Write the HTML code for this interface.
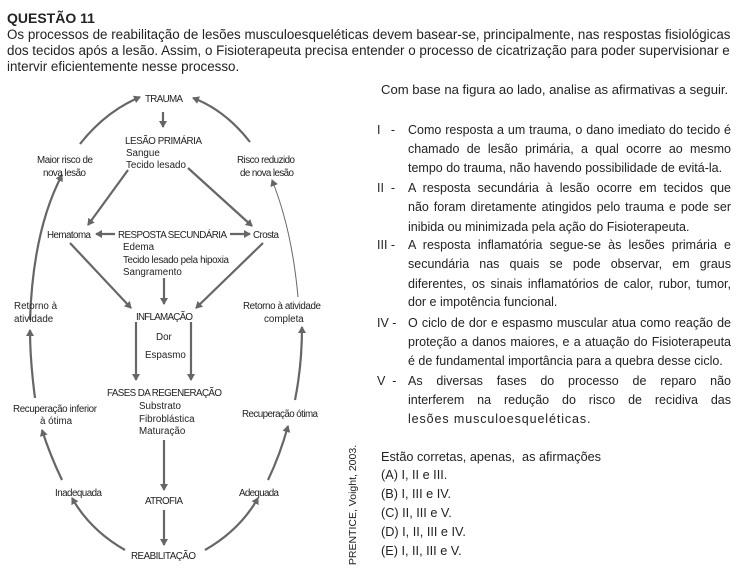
<!DOCTYPE html>
<html><head><meta charset="utf-8"><style>
body{margin:0;width:742px;height:575px;background:#fff;position:relative;overflow:hidden;font-family:"Liberation Sans",Arial,sans-serif;color:#222}
.a{position:absolute;white-space:nowrap;line-height:16px}
.h{font-size:13.4px;left:7px}
.r{font-size:12.7px}
.j{position:absolute;left:408px;width:323px;font-size:12.5px;line-height:16px;text-align:justify;text-align-last:justify;white-space:nowrap}
.l{text-align-last:left}
.n{position:absolute;left:377px;font-size:12.5px;line-height:16px}
svg text{font-family:"Liberation Sans",Arial,sans-serif;font-size:9.8px;fill:#222}
</style></head><body>
<div class="a" style="left:7px;top:10px;font-weight:bold;font-size:14px">QUESTÃO 11</div>
<div class="a h" style="top:27px">Os processos de reabilitação de lesões musculoesqueléticas devem basear-se, principalmente, nas respostas fisiológicas</div>
<div class="a h" style="top:43px">dos tecidos após a lesão. Assim, o Fisioterapeuta precisa entender o processo de cicatrização para poder supervisionar e</div>
<div class="a h" style="top:59px">intervir eficientemente nesse processo.</div>

<div class="a r" style="left:381px;top:82px;font-size:13.1px">Com base na figura ao lado, analise as afirmativas a seguir.</div>
<div class="n" style="top:122px">I&nbsp;&nbsp;&nbsp;-</div>
<div class="j" style="top:122px">Como resposta a um trauma, o dano imediato do tecido é</div>
<div class="j" style="top:141px">chamado de lesão primária, a qual ocorre ao mesmo</div>
<div class="j l" style="top:160px">tempo do trauma, não havendo possibilidade de evitá-la.</div>
<div class="n" style="top:180px">II&nbsp;&nbsp;-</div>
<div class="j" style="top:180px">A resposta secundária à lesão ocorre em tecidos que</div>
<div class="j" style="top:199px">não foram diretamente atingidos pelo trauma e pode ser</div>
<div class="j l" style="top:219px">inibida ou minimizada pela ação do Fisioterapeuta.</div>
<div class="n" style="top:237px">III -</div>
<div class="j" style="top:237px">A resposta inflamatória segue-se às lesões primária e</div>
<div class="j" style="top:256px">secundária nas quais se pode observar, em graus</div>
<div class="j" style="top:276px">diferentes, os sinais inflamatórios de calor, rubor, tumor,</div>
<div class="j l" style="top:294px">dor e impotência funcional.</div>
<div class="n" style="top:315px">IV -</div>
<div class="j" style="top:315px">O ciclo de dor e espasmo muscular atua como reação de</div>
<div class="j" style="top:334px">proteção a danos maiores, e a atuação do Fisioterapeuta</div>
<div class="j l" style="top:353px">é de fundamental importância para a quebra desse ciclo.</div>
<div class="n" style="top:373px">V&nbsp;&nbsp;-</div>
<div class="j" style="top:373px">As diversas fases do processo de reparo não</div>
<div class="j" style="top:392px">interferem na redução do risco de recidiva das</div>
<div class="j l" style="top:411px;letter-spacing:0.9px">lesões musculoesqueléticas.</div>
<div class="a r" style="left:381px;top:449px">Estão corretas, apenas,&nbsp; as afirmações</div>
<div class="a r" style="left:381px;top:467px">(A) I, II e III.</div>
<div class="a r" style="left:381px;top:486px">(B) I, III e IV.</div>
<div class="a r" style="left:381px;top:505px">(C) II, III e V.</div>
<div class="a r" style="left:381px;top:524px">(D) I, II, III e IV.</div>
<div class="a r" style="left:381px;top:543px">(E) I, II, III e V.</div>
<div class="a" style="left:353px;top:505px;font-size:10.5px;transform:translate(-50%,-50%) rotate(-90deg)">PRENTICE, Voight, 2003.</div>

<svg width="742" height="575" style="position:absolute;left:0;top:0">
<defs><marker id="m" markerWidth="8" markerHeight="8" refX="6" refY="4" orient="auto" markerUnits="userSpaceOnUse"><path d="M0,0 L7,4 L0,8 Z" fill="#666"/></marker></defs>
<g stroke="#666" stroke-width="2.2" fill="none" marker-end="url(#m)">
<line x1="163" y1="112" x2="163" y2="127"/>
<line x1="128" y1="170" x2="88" y2="225"/>
<line x1="188" y1="168" x2="252" y2="226"/>
<line x1="115" y1="234" x2="96" y2="234"/>
<line x1="230" y1="234" x2="250" y2="234"/>
<line x1="70" y1="243" x2="131" y2="308"/>
<line x1="164" y1="278" x2="164" y2="304"/>
<line x1="263" y1="243" x2="196" y2="308"/>
<line x1="136" y1="322" x2="136" y2="380"/>
<line x1="191" y1="322" x2="191" y2="380"/>
<line x1="164" y1="440" x2="164" y2="490"/>
<line x1="164" y1="510" x2="164" y2="545"/>
<path d="M80,144 Q105,112 140,97"/>
<path d="M250,142 Q225,110 193,98"/>
<path d="M30,320 Q33,230 62,175"/>
<path d="M35,398 Q30,360 30,330"/>
<path d="M62,480 Q50,455 42,430"/>
<path d="M125,550 Q90,530 72,498"/>
<path d="M205,550 Q240,530 258,498"/>
<path d="M268,480 Q280,455 288,426"/>
<path d="M295,400 Q302,365 302,327"/>
</g>
<path d="M298,297 Q292,230 272,180" stroke="#666" stroke-width="1" fill="none" marker-end="url(#m)"/>
<text x="145" y="102" textLength="38">TRAUMA</text>
<text x="125" y="144" textLength="77">LESÃO PRIMÁRIA</text>
<text x="126" y="156">Sangue</text>
<text x="126" y="168">Tecido lesado</text>
<text x="37" y="163" textLength="56">Maior risco de</text>
<text x="43" y="176" textLength="43">nova lesão</text>
<text x="237" y="163" textLength="58">Risco reduzido</text>
<text x="240" y="176" textLength="54">de nova lesão</text>
<text x="47" y="238" textLength="44">Hematoma</text>
<text x="118" y="238" textLength="109">RESPOSTA SECUNDÁRIA</text>
<text x="253" y="238" textLength="26">Crosta</text>
<text x="123" y="250">Edema</text>
<text x="123" y="263" textLength="106">Tecido lesado pela hipoxia</text>
<text x="123" y="275">Sangramento</text>
<text x="14" y="309">Retorno à</text>
<text x="14" y="322">atividade</text>
<text x="243" y="309" textLength="78">Retorno à atividade</text>
<text x="264" y="322">completa</text>
<text x="136" y="320" textLength="57">INFLAMAÇÃO</text>
<text x="156" y="340">Dor</text>
<text x="145" y="358">Espasmo</text>
<text x="107" y="396" textLength="115">FASES DA REGENERAÇÃO</text>
<text x="139" y="409">Substrato</text>
<text x="139" y="422">Fibroblástica</text>
<text x="139" y="434">Maturação</text>
<text x="13" y="412" textLength="84">Recuperação inferior</text>
<text x="40" y="424">à ótima</text>
<text x="242" y="417" textLength="76">Recuperação ótima</text>
<text x="55" y="496" textLength="47">Inadequada</text>
<text x="239" y="496" textLength="40">Adequada</text>
<text x="145" y="504" textLength="38">ATROFIA</text>
<text x="131" y="559" textLength="65">REABILITAÇÃO</text>
</svg>
</body></html>
